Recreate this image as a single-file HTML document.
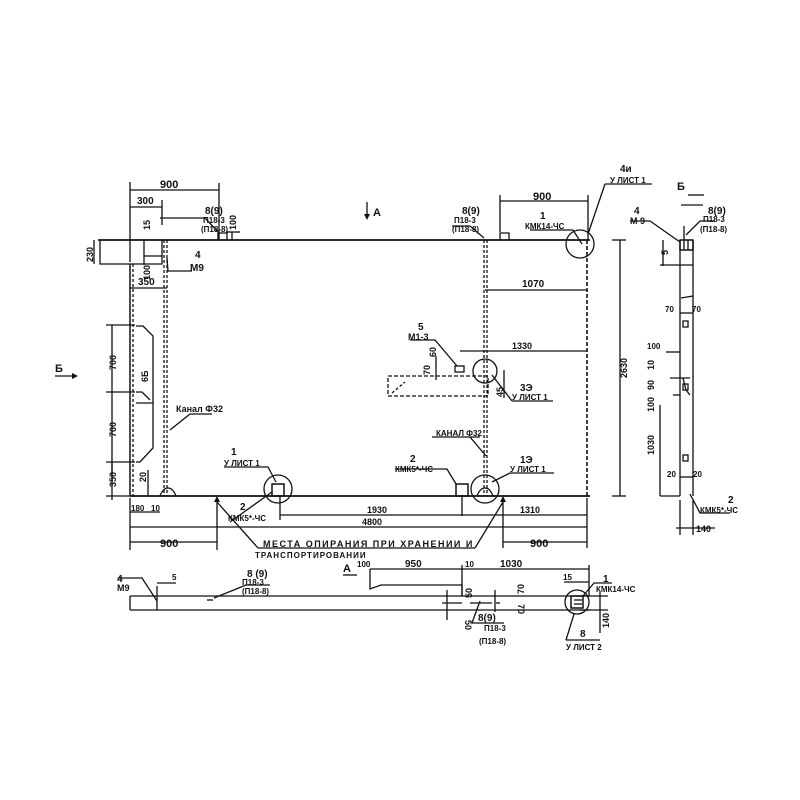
<!DOCTYPE html>
<html><head><meta charset="utf-8"><style>
html,body{margin:0;padding:0;background:#fff}
svg{display:block}
text{font-family:"Liberation Sans","DejaVu Sans",sans-serif;fill:#111}
</style></head><body>
<svg width="800" height="800" viewBox="0 0 800 800" xmlns="http://www.w3.org/2000/svg">
<g stroke="#111" stroke-width="1.3" fill="none">
<!-- main panel -->
<line x1="98" y1="240" x2="590" y2="240" stroke-width="1.8"/>
<line x1="130" y1="496" x2="590" y2="496" stroke-width="1.8"/>
<polyline points="100,240 100,264 162,264 162,240"/>
<line x1="130" y1="264" x2="130" y2="496" stroke-width="1.5"/>
<line x1="133" y1="264" x2="133" y2="496" stroke-dasharray="3,2"/>
<line x1="164" y1="240" x2="164" y2="496" stroke-dasharray="3,2"/>
<line x1="167" y1="240" x2="167" y2="496" stroke-dasharray="3,2"/>
<line x1="587" y1="240" x2="587" y2="496" stroke-dasharray="4,2" stroke-width="1.6"/>
<line x1="484" y1="240" x2="484" y2="496" stroke-dasharray="3,2"/>
<line x1="487" y1="240" x2="487" y2="496" stroke-dasharray="3,2"/>
<!-- loops -->
<path d="M160,496 q3,-8 8,-8 q5,0 8,8"/>
<path d="M477,496 q3,-8 8,-8 q5,0 8,8"/>
<path d="M218,240 v-7 h9 v7"/>
<path d="M500,240 v-7 h9 v7"/>
<!-- dashed box left of center -->
<rect x="388" y="376" width="100" height="20" stroke-dasharray="4,2"/>
<line x1="392" y1="393" x2="405" y2="382" stroke-dasharray="3,2"/>
<rect x="455" y="366" width="9" height="6"/>
<!-- circles -->
<circle cx="278" cy="489" r="14"/>
<circle cx="485" cy="371" r="12"/>
<circle cx="485" cy="489" r="14"/>
<circle cx="580" cy="244" r="14"/>
<rect x="272" y="484" width="12" height="12" stroke-width="1.5"/>
<rect x="456" y="484" width="12" height="12" stroke-width="1.5"/>
<!-- left side leader brackets -->
<polyline points="136,326 143,326 153,336 153,403 136,403"/>
<polyline points="136,392 142,392 150,400"/>
<polyline points="136,462 140,462 153,448 153,403"/>
<!-- dimensions left -->
<line x1="112" y1="325" x2="112" y2="480"/>
<line x1="106" y1="325" x2="135" y2="325"/><line x1="106" y1="392" x2="135" y2="392"/><line x1="106" y1="462" x2="135" y2="462"/><line x1="106" y1="496" x2="135" y2="496"/>
<line x1="112" y1="462" x2="112" y2="500"/>
<line x1="130" y1="182" x2="130" y2="262"/>
<line x1="130" y1="190" x2="219" y2="190"/><line x1="219" y1="183" x2="219" y2="240"/>
<line x1="130" y1="207" x2="162" y2="207"/><line x1="162" y1="200" x2="162" y2="225"/>
<line x1="130" y1="288" x2="167" y2="288"/>
<line x1="94" y1="240" x2="94" y2="264"/>
<line x1="144" y1="240" x2="144" y2="265"/><line x1="144" y1="256" x2="162" y2="256"/>
<line x1="226" y1="232" x2="240" y2="232"/><line x1="232" y1="232" x2="232" y2="240"/>
<line x1="148" y1="470" x2="148" y2="496"/>
<!-- bottom dims -->
<line x1="130" y1="498" x2="130" y2="550"/>
<line x1="130" y1="512" x2="160" y2="512"/>
<line x1="217" y1="500" x2="217" y2="550"/>
<line x1="280" y1="515" x2="587" y2="515"/>
<line x1="280" y1="496" x2="280" y2="520"/>
<line x1="130" y1="527" x2="587" y2="527"/>
<line x1="130" y1="542" x2="217" y2="542"/>
<line x1="503" y1="542" x2="587" y2="542"/>
<line x1="587" y1="498" x2="587" y2="548"/>
<line x1="503" y1="500" x2="503" y2="548"/>
<line x1="462" y1="496" x2="462" y2="516"/>
<line x1="217" y1="502" x2="258" y2="548"/><line x1="258" y1="548" x2="475" y2="548"/><line x1="475" y1="548" x2="503" y2="502"/>
<!-- right dims -->
<line x1="500" y1="201" x2="588" y2="201"/><line x1="500" y1="195" x2="500" y2="232"/><line x1="588" y1="195" x2="588" y2="240"/>
<line x1="620" y1="240" x2="620" y2="496"/><line x1="612" y1="240" x2="626" y2="240"/><line x1="612" y1="496" x2="626" y2="496"/>
<line x1="485" y1="290" x2="587" y2="290"/>
<line x1="460" y1="351" x2="587" y2="351"/>
<line x1="436" y1="356" x2="436" y2="380"/>
<line x1="504" y1="370" x2="504" y2="398"/>
<!-- leaders -->
<polyline points="160,218 205,218 219,233"/>
<polyline points="192,271 168,271 167,258"/>
<polyline points="190,414 212,414"/><line x1="190" y1="414" x2="170" y2="430"/>
<polyline points="224,467 268,467 276,482"/>
<line x1="230" y1="522" x2="272" y2="492"/>
<polyline points="452,226 470,226 484,238"/>
<polyline points="530,230 573,230 582,244"/>
<polyline points="605,184 652,184"/><line x1="605" y1="184" x2="588" y2="234"/>
<polyline points="410,340 435,340 457,366"/>
<polyline points="432,437 480,437"/><line x1="470" y1="437" x2="486" y2="456"/>
<polyline points="395,469 447,469 456,484"/>
<polyline points="510,473 554,473"/><line x1="510" y1="473" x2="492" y2="482"/>
<polyline points="512,401 553,401"/><line x1="512" y1="401" x2="492" y2="375"/>
<!-- arrows -->
<line x1="367" y1="202" x2="367" y2="217"/>
<line x1="55" y1="376" x2="72" y2="376"/>
<line x1="688" y1="195" x2="704" y2="195"/>
<line x1="343" y1="575" x2="357" y2="575"/>
<!-- section B -->
<line x1="680" y1="240" x2="680" y2="496"/>
<line x1="693" y1="240" x2="693" y2="496"/>
<rect x="680" y="240" width="13" height="10" stroke-width="1.5"/>
<line x1="684" y1="240" x2="684" y2="250"/><line x1="688" y1="240" x2="688" y2="250"/>
<line x1="684" y1="240" x2="684" y2="226"/>
<rect x="683" y="321" width="5" height="6"/><rect x="683" y="384" width="5" height="6"/><rect x="683" y="455" width="5" height="6"/>
<line x1="663" y1="240" x2="663" y2="266"/><line x1="660" y1="265" x2="693" y2="265"/>
<line x1="681" y1="298" x2="693" y2="296"/>
<line x1="680" y1="313" x2="693" y2="313"/>
<line x1="666" y1="352" x2="680" y2="352"/>
<line x1="670" y1="378" x2="690" y2="378"/><polyline points="683,378 686,390 690,395"/>
<line x1="673" y1="395" x2="680" y2="395"/>
<line x1="660" y1="496" x2="680" y2="496"/>
<line x1="660" y1="405" x2="660" y2="496"/>
<line x1="680" y1="477" x2="693" y2="477"/>
<polyline points="630,221 650,221 680,242"/>
<polyline points="715,221 700,221 686,235"/>
<polyline points="730,513 700,513 690,494"/>
<line x1="680" y1="500" x2="680" y2="535"/><line x1="693" y1="500" x2="693" y2="535"/>
<line x1="676" y1="528" x2="715" y2="528"/>
<line x1="681" y1="205" x2="703" y2="205"/>
<!-- view A -->
<line x1="130" y1="596" x2="590" y2="596"/>
<line x1="130" y1="610" x2="590" y2="610"/>
<line x1="130" y1="596" x2="130" y2="610"/>
<line x1="157" y1="586" x2="157" y2="610"/>
<polyline points="118,578 142,578 157,601"/>
<line x1="157" y1="583" x2="176" y2="583"/>
<line x1="207" y1="600" x2="213" y2="600"/>
<polyline points="270,585 246,585 214,598"/>
<polyline points="370,569 370,589 381,585 462,585 462,596"/>
<line x1="370" y1="569" x2="589" y2="569"/>
<line x1="462" y1="565" x2="462" y2="596"/>
<line x1="589" y1="565" x2="589" y2="596"/>
<line x1="564" y1="582" x2="589" y2="582"/>
<line x1="442" y1="603" x2="462" y2="603"/><line x1="447" y1="590" x2="447" y2="620"/>
<line x1="470" y1="603" x2="492" y2="603"/><line x1="496" y1="603" x2="500" y2="603"/>
<line x1="495" y1="590" x2="495" y2="612"/>
<polyline points="472,623 480,601"/><line x1="472" y1="623" x2="504" y2="623"/>
<circle cx="577" cy="602" r="12"/>
<rect x="571" y="596" width="12" height="12" stroke-width="1.5"/>
<line x1="574" y1="600" x2="582" y2="600"/><line x1="574" y1="604" x2="582" y2="604"/>
<polyline points="583,596 594,583 612,583"/>
<polyline points="566,640 574,614"/><line x1="566" y1="640" x2="600" y2="640"/>
<line x1="579" y1="596" x2="608" y2="596"/><line x1="580" y1="610" x2="608" y2="610"/>
<line x1="600" y1="592" x2="600" y2="633"/>
</g>
<g fill="#111">
<polygon points="364,214 370,214 367,220"/>
<polygon points="72,373 72,379 78,376"/>
<polygon points="214,502 220,502 217,496"/>
<polygon points="500,502 506,502 503,496"/>
</g>
<g font-size="10" font-weight="bold">
<text x="160" y="188" font-size="11">900</text>
<text x="137" y="204">300</text>
<text x="205" y="214">8(9)</text>
<text x="203" y="223" font-size="8">П18-3</text>
<text x="201" y="232" font-size="8">(П18-8)</text>
<text x="195" y="258">4</text><text x="190" y="271">М9</text>
<text x="138" y="285">350</text>
<text x="176" y="412" font-size="9">Канал Ф32</text>
<text x="231" y="455">1</text><text x="224" y="466" font-size="8">У ЛИСТ 1</text>
<text x="240" y="510">2</text><text x="228" y="521" font-size="8">КМК5*-ЧС</text>
<text x="367" y="513" font-size="9">1930</text>
<text x="362" y="525" font-size="9">4800</text>
<text x="160" y="547" font-size="11">900</text>
<text x="530" y="547" font-size="11">900</text>
<text x="520" y="513" font-size="9">1310</text>
<text x="131" y="511" font-size="8">180</text><text x="151" y="511" font-size="8">10</text>
<text x="263" y="547" font-size="9" letter-spacing="1.5">МЕСТА ОПИРАНИЯ ПРИ ХРАНЕНИИ И</text>
<text x="255" y="558" font-size="8" letter-spacing="1">ТРАНСПОРТИРОВАНИИ</text>
<text x="373" y="216" font-size="11">А</text>
<text x="55" y="372" font-size="11">Б</text>
<text x="677" y="190" font-size="11">Б</text>
<text x="343" y="572" font-size="11">А</text>
<text x="462" y="214">8(9)</text>
<text x="454" y="223" font-size="8">П18-3</text>
<text x="452" y="232" font-size="8">(П18-8)</text>
<text x="533" y="200" font-size="11">900</text>
<text x="540" y="219">1</text><text x="525" y="229" font-size="8">КМК14-ЧС</text>
<text x="620" y="172">4и</text><text x="610" y="183" font-size="8">У ЛИСТ 1</text>
<text x="522" y="287" font-size="10">1070</text>
<text x="512" y="349" font-size="9">1330</text>
<text x="418" y="330">5</text><text x="408" y="340" font-size="9">М1-3</text>
<text x="436" y="436" font-size="8">КАНАЛ Ф32</text>
<text x="410" y="462">2</text><text x="395" y="472" font-size="8">КМК5*-ЧС</text>
<text x="520" y="463">1Э</text><text x="510" y="472" font-size="8">У ЛИСТ 1</text>
<text x="520" y="391">3Э</text><text x="512" y="400" font-size="8">У ЛИСТ 1</text>
<text x="634" y="214">4</text><text x="630" y="224" font-size="9">М 9</text>
<text x="708" y="214">8(9)</text>
<text x="703" y="222" font-size="8">П18-3</text>
<text x="700" y="232" font-size="8">(П18-8)</text>
<text x="665" y="312" font-size="8">70</text><text x="692" y="312" font-size="8">70</text>
<text x="647" y="349" font-size="8">100</text>
<text x="667" y="477" font-size="8">20</text><text x="693" y="477" font-size="8">20</text>
<text x="728" y="503">2</text><text x="700" y="513" font-size="8">КМК5*-ЧС</text>
<text x="696" y="532" font-size="9">140</text>
<text x="117" y="582">4</text><text x="117" y="591" font-size="9">М9</text>
<text x="172" y="580" font-size="8">5</text>
<text x="247" y="577">8 (9)</text>
<text x="242" y="585" font-size="8">П18-3</text>
<text x="242" y="594" font-size="8">(П18-8)</text>
<text x="357" y="567" font-size="8">100</text>
<text x="405" y="567" font-size="10">950</text>
<text x="465" y="567" font-size="8">10</text>
<text x="500" y="567" font-size="10">1030</text>
<text x="563" y="580" font-size="8">15</text>
<text x="603" y="582">1</text><text x="596" y="592" font-size="8">КМК14-ЧС</text>
<text x="478" y="621">8(9)</text>
<text x="484" y="631" font-size="8">П18-3</text>
<text x="479" y="644" font-size="8">(П18-8)</text>
<text x="580" y="637">8</text><text x="566" y="650" font-size="8">У ЛИСТ 2</text>
</g>
<g font-size="9" font-weight="bold">
<text transform="translate(93,262) rotate(-90)">230</text>
<text transform="translate(150,230) rotate(-90)">15</text>
<text transform="translate(150,280) rotate(-90)">100</text>
<text transform="translate(236,230) rotate(-90)">100</text>
<text transform="translate(116,370) rotate(-90)">700</text>
<text transform="translate(116,437) rotate(-90)">700</text>
<text transform="translate(116,487) rotate(-90)">350</text>
<text transform="translate(148,382) rotate(-90)">6Б</text>
<text transform="translate(146,482) rotate(-90)">20</text>
<text transform="translate(627,378) rotate(-90)">2630</text>
<text transform="translate(436,357) rotate(-90)">60</text>
<text transform="translate(430,375) rotate(-90)">70</text>
<text transform="translate(503,397) rotate(-90)">45</text>
<text transform="translate(668,255) rotate(-90)">5</text>
<text transform="translate(654,370) rotate(-90)">10</text>
<text transform="translate(654,390) rotate(-90)">90</text>
<text transform="translate(654,412) rotate(-90)">100</text>
<text transform="translate(654,455) rotate(-90)">1030</text>
<text transform="translate(472,598) rotate(-90)">50</text>
<text transform="translate(465,620) rotate(90)">50</text>
<text transform="translate(524,594) rotate(-90)">70</text>
<text transform="translate(518,604) rotate(90)">70</text>
<text transform="translate(609,628) rotate(-90)">140</text>
</g>
</svg>
</body></html>
